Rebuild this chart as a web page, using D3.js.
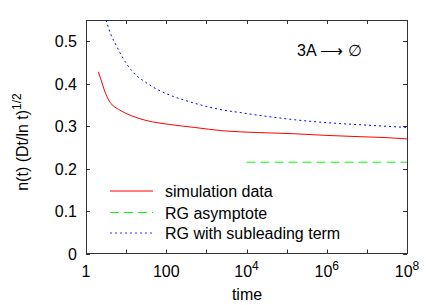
<!DOCTYPE html>
<html><head><meta charset="utf-8">
<script src="https://cdn.jsdelivr.net/npm/d3@7"></script>
<style>body{margin:0;background:#fff}svg{display:block}text{font-family:"Liberation Sans",Arial,sans-serif}</style>
</head><body><svg id="c" width="436" height="305"></svg>
<script>
const simT = [2.03, 2.37, 2.86, 3.3, 3.8, 4.5, 5.6, 7.5, 9.9, 14, 21, 46, 119, 500, 2600, 18600, 1.6e5, 1.07e6, 7.5e6, 3e7, 1e8];
const simV = [0.428, 0.409, 0.385, 0.370, 0.359, 0.350, 0.343, 0.336, 0.330, 0.324, 0.318, 0.310, 0.304, 0.297, 0.289, 0.285, 0.282, 0.278, 0.275, 0.273, 0.270];
const rgT = [3.15, 4.2, 5.6, 7.5, 9.9, 13.2, 17.6, 27.9, 46.7, 83, 148, 310, 1050, 2600, 6900, 18600, 47000, 1.6e5, 1.07e6, 7.5e6, 1e8];
const rgV = [0.55, 0.515, 0.491, 0.468, 0.449, 0.433, 0.420, 0.406, 0.392, 0.380, 0.370, 0.360, 0.346, 0.338, 0.332, 0.326, 0.321, 0.315, 0.308, 0.303, 0.297];
const asymT = [1e4, 1e8];
const asymV = [0.215, 0.215];
const xTicks = [1, 100, 1e4, 1e6, 1e8];
const xTickLabels = ["1", "100", "10^4", "10^6", "10^8"];
const yTicks = [0, 0.1, 0.2, 0.3, 0.4, 0.5];
const legendLabels = ["simulation data", "RG asymptote", "RG with subleading term"];

const svg = d3.select("#c");
const L = 86, R = 407, T = 20, B = 253.5;
const x = d3.scaleLog().domain([1, 1e8]).range([L, R]);
const y = d3.scaleLinear().domain([0, 0.55]).range([B, T]);
const fs = 16;

svg.append("rect").attr("x", L + 0.5).attr("y", T + 0.5).attr("width", R - L).attr("height", B - T - 0.5)
  .attr("fill", "none").attr("stroke", "#333").attr("stroke-width", 1);

const decades = d3.range(0, 9).map(d => Math.pow(10, d));
const tl = 4;
decades.forEach(d => {
  const px = Math.round(x(d)) + 0.5;
  svg.append("line").attr("x1", px).attr("x2", px).attr("y1", B).attr("y2", B - tl).attr("stroke", "#333");
  svg.append("line").attr("x1", px).attr("x2", px).attr("y1", T).attr("y2", T + tl).attr("stroke", "#333");
});
yTicks.forEach(v => {
  const py = Math.round(y(v)) + 0.5;
  svg.append("line").attr("x1", L).attr("x2", L + tl).attr("y1", py).attr("y2", py).attr("stroke", "#333");
  svg.append("line").attr("x1", R).attr("x2", R - tl).attr("y1", py).attr("y2", py).attr("stroke", "#333");
  svg.append("text").attr("x", 77).attr("y", y(v) + 6).attr("text-anchor", "end").attr("font-size", fs)
    .text(v === 0 ? "0" : d3.format(".1f")(v));
});
xTicks.forEach((v, i) => {
  const lab = xTickLabels[i];
  const t = svg.append("text").attr("x", x(v)).attr("y", 277).attr("text-anchor", "middle").attr("font-size", fs);
  if (lab.includes("^")) {
    const [b, e] = lab.split("^");
    t.append("tspan").text(b);
    t.append("tspan").attr("dy", -7).attr("font-size", 12).text(e);
  } else t.text(lab);
});

svg.append("text").attr("x", 247).attr("y", 300).attr("text-anchor", "middle").attr("font-size", fs).text("time");
const yl = svg.append("text").attr("transform", "translate(28,142) rotate(-90)").attr("text-anchor", "middle").attr("font-size", fs);
yl.append("tspan").text("n(t) (Dt/ln t)");
yl.append("tspan").attr("dy", -7).attr("font-size", 12).text("1/2");

const ann = svg.append("text").attr("x", 297).attr("y", 56).attr("font-size", fs);
ann.append("tspan").text("3A ");
ann.append("tspan").attr("font-family", "DejaVu Sans").attr("font-weight", 200).text("\u27F6");
ann.append("tspan").text(" \u2205");

svg.append("clipPath").attr("id", "clip").append("rect").attr("x", L).attr("y", T).attr("width", R - L).attr("height", B - T);
const line = d3.line().x(d => x(d[0])).y(d => y(d[1])).curve(d3.curveMonotoneX);
const g = svg.append("g").attr("clip-path", "url(#clip)");
g.append("path").datum(simT.map((t, i) => [t, simV[i]])).attr("d", line).attr("fill", "none").attr("stroke", "#ff0000").attr("stroke-width", 1);
g.append("path").datum(asymT.map((t, i) => [t, asymV[i]])).attr("d", line).attr("fill", "none").attr("stroke", "#00ff00").attr("stroke-width", 1).attr("stroke-dasharray", "9,5");
g.append("path").datum(rgT.map((t, i) => [t, rgV[i]])).attr("d", line).attr("fill", "none").attr("stroke", "#0000ff").attr("stroke-width", 1).attr("stroke-dasharray", "2,3");

const styles = [{c: "#ff0000", d: null}, {c: "#00ff00", d: "9,5"}, {c: "#3333ff", d: "2,3"}];
legendLabels.forEach((lab, i) => {
  const yy = [191, 212.5, 233][i];
  svg.append("line").attr("x1", 110).attr("x2", 153).attr("y1", yy).attr("y2", yy)
    .attr("stroke", styles[i].c).attr("stroke-dasharray", styles[i].d);
  svg.append("text").attr("x", 165).attr("y", Math.round(yy) + 6).attr("font-size", fs).text(lab);
});
</script></body></html>
